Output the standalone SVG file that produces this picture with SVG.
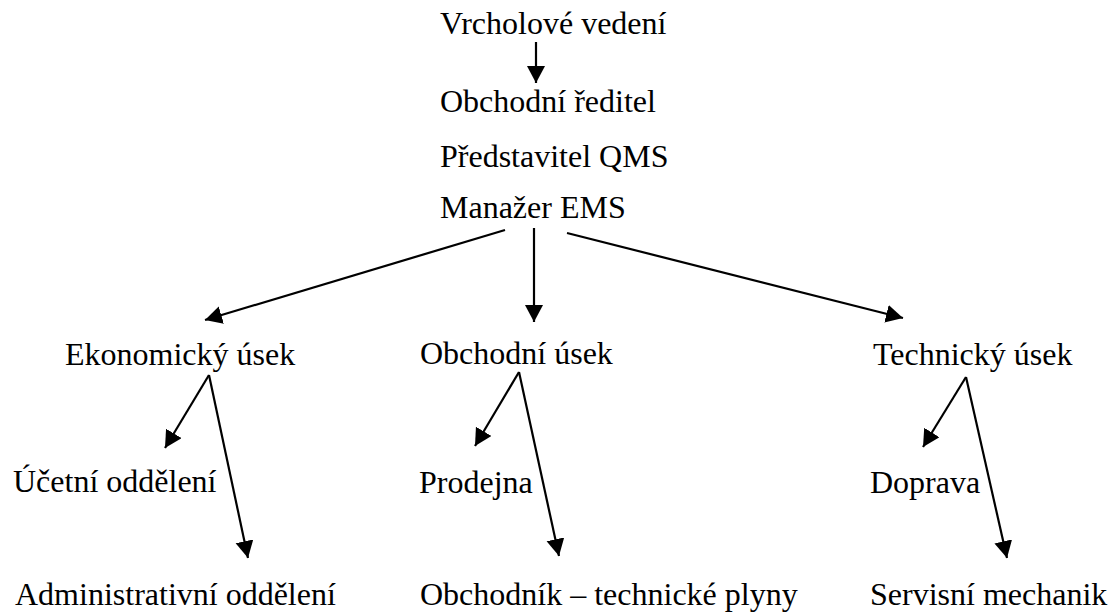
<svg xmlns="http://www.w3.org/2000/svg" width="1117" height="612" viewBox="0 0 1117 612">
<style>
text{font-family:"Liberation Serif","Times New Roman","DejaVu Serif",serif;font-size:32px;fill:#000}
.c line{stroke:#000;stroke-width:2.2;marker-end:url(#ah)}
</style>
<defs>
<marker id="ah" markerUnits="userSpaceOnUse" markerWidth="20" markerHeight="20" refX="17" refY="9" orient="auto">
<path d="M0,0 L17,9 L0,18 z" fill="#000"/>
</marker>
</defs>
<rect width="1117" height="612" fill="#fff"/>
<g id="top"><text x="440" y="34" font-family="Liberation Serif">Vrcholové vedení</text></g>
<g id="mgmt">
<text x="440" y="112">Obchodní ředitel</text>
<text x="440" y="167">Představitel QMS</text>
<text x="440" y="218">Manažer EMS</text>
</g>
<g id="eko"><text x="65" y="365">Ekonomický úsek</text></g>
<g id="obch"><text x="420" y="364">Obchodní úsek</text></g>
<g id="tech"><text x="873" y="365">Technický úsek</text></g>
<g id="ucet"><text x="13" y="492">Účetní oddělení</text></g>
<g id="admin"><text x="15" y="605">Administrativní oddělení</text></g>
<g id="prod"><text x="419" y="493">Prodejna</text></g>
<g id="obchodnik"><text x="420" y="605">Obchodník – technické plyny</text></g>
<g id="doprava"><text x="870" y="493">Doprava</text></g>
<g id="servis"><text x="870" y="605">Servisní mechanik</text></g>
<g class="c" id="connectors">
<line x1="536" y1="42" x2="536" y2="83"/>
<line x1="505" y1="230" x2="205" y2="320"/>
<line x1="534" y1="228" x2="534" y2="322"/>
<line x1="567" y1="233" x2="903" y2="318"/>
<line x1="209" y1="375" x2="165" y2="448"/>
<line x1="209" y1="375" x2="248" y2="558"/>
<line x1="519" y1="372" x2="475" y2="446"/>
<line x1="519" y1="372" x2="559" y2="556"/>
<line x1="966" y1="377" x2="923" y2="447"/>
<line x1="966" y1="377" x2="1007" y2="558"/>
</g>
</svg>
